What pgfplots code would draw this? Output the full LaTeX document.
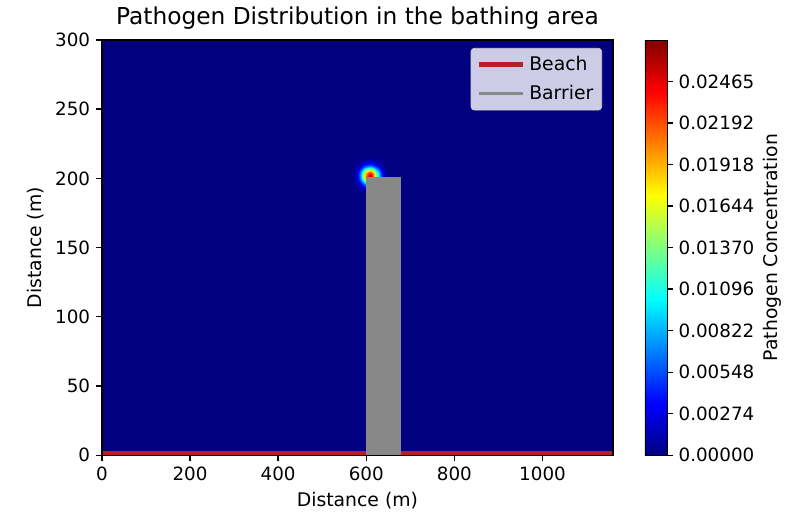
\documentclass[border=0pt]{standalone}
\usepackage{fontspec}
\setmainfont{DejaVu Sans}
\usepackage{pgfplots}
\pgfplotsset{compat=1.18}
\definecolor{bgblue}{RGB}{0,0,128}
\definecolor{beachred}{RGB}{178,34,34}
\definecolor{barriergray}{RGB}{136,136,136}
\definecolor{legfill}{RGB}{204,204,230}
\definecolor{legedge}{RGB}{204,204,204}
\begin{document}
\begin{tikzpicture}
\begin{axis}[
  name=main,
  scale only axis,
  width=307.2pt, height=249.6pt,
  xmin=0, xmax=1160, ymin=0, ymax=300,
  xtick={0,200,400,600,800,1000},
  ytick={0,50,100,150,200,250,300},
  xtick pos=bottom, ytick pos=left,
  tick align=outside, major tick length=3.5pt,
  tick style={black, line width=0.8pt},
  axis line style={line width=0.8pt},
  axis background/.style={fill=bgblue},
  axis on top,
  /pgf/number format/assume math mode=true,
  /pgf/number format/1000 sep={},
  tick label style={font=\fontsize{11}{13}\selectfont},
  label style={font=\fontsize{11.3}{13}\selectfont},
  title style={font=\fontsize{14}{16}\selectfont, yshift=-3pt},
  title={Pathogen Distribution in the bathing area},
  xlabel={Distance (m)},
  ylabel={Distance (m)},
  colormap/jet,
  point meta min=0, point meta max=0.02739,
  colorbar,
  colorbar shift/.style={xshift=19.2pt},
  colorbar style={
    at={(parent axis.north east)}, anchor=north west,
    width=13.2pt,
    ytick={0,0.00274,0.00548,0.00822,0.01096,0.0137,0.01644,0.01918,0.02192,0.02465},
    yticklabels={0.00000,0.00274,0.00548,0.00822,0.01096,0.01370,0.01644,0.01918,0.02192,0.02465},
    scaled y ticks=false,
    ytick pos=right,
    tick align=outside, major tick length=3.5pt,
    tick style={black, line width=0.8pt},
    yticklabel style={font=\fontsize{11}{13}\selectfont},
    ylabel={Pathogen Concentration},
    ylabel shift={-1.5pt},
    ylabel style={font=\fontsize{11.3}{13}\selectfont},
  },
  legend style={at={(1,1)}, anchor=north east, xshift=-6.6pt, yshift=-4.8pt,
    fill=legfill, draw=legedge, rounded corners=2pt,
    font=\fontsize{11.3}{13}\selectfont, row sep=3pt, inner sep=3pt},
  legend cell align=left,
  legend image code/.code={\draw[#1] (0pt,0pt) -- (27pt,0pt);},
]
\addplot[surf, shader=interp, mesh/cols=15, point meta=explicit, forget plot] coordinates {
(568,189.2)[0] (578,189.2)[0] (583,189.2)[0] (588,189.2)[0] (593,189.2)[0] (598,189.2)[0] (603,189.2)[0] (608,189.2)[0] (613,189.2)[0] (618,189.2)[0] (623,189.2)[0] (628,189.2)[0] (633,189.2)[0] (638,189.2)[0] (648,189.2)[0]
(568,192.4)[0] (578,192.4)[0.0002] (583,192.4)[0.0005] (588,192.4)[0.0009] (593,192.4)[0.0014] (598,192.4)[0.0020] (603,192.4)[0.0024] (608,192.4)[0.0025] (613,192.4)[0.0024] (618,192.4)[0.0020] (623,192.4)[0.0014] (628,192.4)[0.0009] (633,192.4)[0.0005] (638,192.4)[0.0002] (648,192.4)[0]
(568,194.0)[0] (578,194.0)[0.0005] (583,194.0)[0.0010] (588,194.0)[0.0018] (593,194.0)[0.0029] (598,194.0)[0.0039] (603,194.0)[0.0048] (608,194.0)[0.0051] (613,194.0)[0.0048] (618,194.0)[0.0039] (623,194.0)[0.0029] (628,194.0)[0.0018] (633,194.0)[0.0010] (638,194.0)[0.0005] (648,194.0)[0]
(568,195.6)[0] (578,195.6)[0.0009] (583,195.6)[0.0018] (588,195.6)[0.0032] (593,195.6)[0.0051] (598,195.6)[0.0070] (603,195.6)[0.0085] (608,195.6)[0.0090] (613,195.6)[0.0085] (618,195.6)[0.0070] (623,195.6)[0.0051] (628,195.6)[0.0032] (633,195.6)[0.0018] (638,195.6)[0.0009] (648,195.6)[0]
(568,197.2)[0] (578,197.2)[0.0014] (583,197.2)[0.0029] (588,197.2)[0.0051] (593,197.2)[0.0079] (598,197.2)[0.0109] (603,197.2)[0.0132] (608,197.2)[0.0141] (613,197.2)[0.0132] (618,197.2)[0.0109] (623,197.2)[0.0079] (628,197.2)[0.0051] (633,197.2)[0.0029] (638,197.2)[0.0014] (648,197.2)[0]
(568,198.8)[0] (578,198.8)[0.0020] (583,198.8)[0.0039] (588,198.8)[0.0070] (593,198.8)[0.0109] (598,198.8)[0.0150] (603,198.8)[0.0182] (608,198.8)[0.0194] (613,198.8)[0.0182] (618,198.8)[0.0150] (623,198.8)[0.0109] (628,198.8)[0.0070] (633,198.8)[0.0039] (638,198.8)[0.0020] (648,198.8)[0]
(568,200.4)[0] (578,200.4)[0.0024] (583,200.4)[0.0048] (588,200.4)[0.0085] (593,200.4)[0.0132] (598,200.4)[0.0182] (603,200.4)[0.0220] (608,200.4)[0.0235] (613,200.4)[0.0220] (618,200.4)[0.0182] (623,200.4)[0.0132] (628,200.4)[0.0085] (633,200.4)[0.0048] (638,200.4)[0.0024] (648,200.4)[0]
(568,202.0)[0] (578,202.0)[0.0025] (583,202.0)[0.0051] (588,202.0)[0.0090] (593,202.0)[0.0141] (598,202.0)[0.0194] (603,202.0)[0.0235] (608,202.0)[0.0250] (613,202.0)[0.0235] (618,202.0)[0.0194] (623,202.0)[0.0141] (628,202.0)[0.0090] (633,202.0)[0.0051] (638,202.0)[0.0025] (648,202.0)[0]
(568,203.6)[0] (578,203.6)[0.0024] (583,203.6)[0.0048] (588,203.6)[0.0085] (593,203.6)[0.0132] (598,203.6)[0.0182] (603,203.6)[0.0220] (608,203.6)[0.0235] (613,203.6)[0.0220] (618,203.6)[0.0182] (623,203.6)[0.0132] (628,203.6)[0.0085] (633,203.6)[0.0048] (638,203.6)[0.0024] (648,203.6)[0]
(568,205.2)[0] (578,205.2)[0.0020] (583,205.2)[0.0039] (588,205.2)[0.0070] (593,205.2)[0.0109] (598,205.2)[0.0150] (603,205.2)[0.0182] (608,205.2)[0.0194] (613,205.2)[0.0182] (618,205.2)[0.0150] (623,205.2)[0.0109] (628,205.2)[0.0070] (633,205.2)[0.0039] (638,205.2)[0.0020] (648,205.2)[0]
(568,206.8)[0] (578,206.8)[0.0014] (583,206.8)[0.0029] (588,206.8)[0.0051] (593,206.8)[0.0079] (598,206.8)[0.0109] (603,206.8)[0.0132] (608,206.8)[0.0141] (613,206.8)[0.0132] (618,206.8)[0.0109] (623,206.8)[0.0079] (628,206.8)[0.0051] (633,206.8)[0.0029] (638,206.8)[0.0014] (648,206.8)[0]
(568,208.4)[0] (578,208.4)[0.0009] (583,208.4)[0.0018] (588,208.4)[0.0032] (593,208.4)[0.0051] (598,208.4)[0.0070] (603,208.4)[0.0085] (608,208.4)[0.0090] (613,208.4)[0.0085] (618,208.4)[0.0070] (623,208.4)[0.0051] (628,208.4)[0.0032] (633,208.4)[0.0018] (638,208.4)[0.0009] (648,208.4)[0]
(568,210.0)[0] (578,210.0)[0.0005] (583,210.0)[0.0010] (588,210.0)[0.0018] (593,210.0)[0.0029] (598,210.0)[0.0039] (603,210.0)[0.0048] (608,210.0)[0.0051] (613,210.0)[0.0048] (618,210.0)[0.0039] (623,210.0)[0.0029] (628,210.0)[0.0018] (633,210.0)[0.0010] (638,210.0)[0.0005] (648,210.0)[0]
(568,211.6)[0] (578,211.6)[0.0002] (583,211.6)[0.0005] (588,211.6)[0.0009] (593,211.6)[0.0014] (598,211.6)[0.0020] (603,211.6)[0.0024] (608,211.6)[0.0025] (613,211.6)[0.0024] (618,211.6)[0.0020] (623,211.6)[0.0014] (628,211.6)[0.0009] (633,211.6)[0.0005] (638,211.6)[0.0002] (648,211.6)[0]
(568,214.8)[0] (578,214.8)[0] (583,214.8)[0] (588,214.8)[0] (593,214.8)[0] (598,214.8)[0] (603,214.8)[0] (608,214.8)[0] (613,214.8)[0] (618,214.8)[0] (623,214.8)[0] (628,214.8)[0] (633,214.8)[0] (638,214.8)[0] (648,214.8)[0]
};
\addplot[beachred, line width=3pt] coordinates {(0,1.5) (1160,1.5)};
\addlegendentry{Beach}
\addplot[fill=barriergray, draw=none, forget plot] coordinates {(600,201) (680,201)} \closedcycle;
\addlegendimage{barriergray, line width=1.5pt}
\addlegendentry{Barrier}
\end{axis}
\path (main.south west) ++(-61.2pt,-36.6pt) rectangle ++(472.2pt,310.2pt);
\end{tikzpicture}
\end{document}
